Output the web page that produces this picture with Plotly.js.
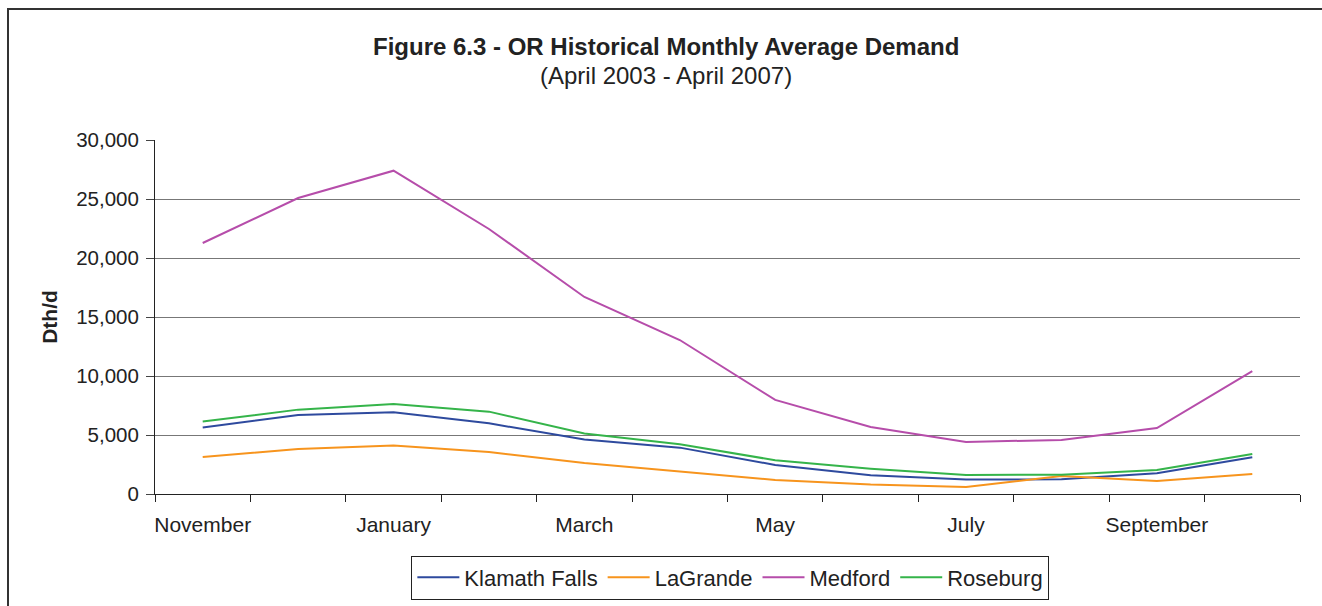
<!DOCTYPE html>
<html>
<head>
<meta charset="utf-8">
<script src="https://cdn.plot.ly/plotly-3.0.1.min.js"></script>
<style>
  html, body { margin: 0; padding: 0; background: #fff; }
  #frame { position: absolute; left: 7px; top: 8px; width: 1330px; height: 620px; border: 2px solid #333; box-sizing: border-box; pointer-events: none; z-index: 5; }
  #chart { position: absolute; left: 0; top: 0; width: 1322px; height: 606px; }
</style>
</head>
<body>
<div id="chart"></div>
<div id="frame"></div>
<script>
const months = ["November","December","January","February","March","April","May","June","July","August","September","October"];
const tickLabels = ["November","January","March","May","July","September"];
const klamathFalls = [5630, 6700, 6920, 5990, 4610, 3930, 2460, 1580, 1220, 1250, 1750, 3110];
const laGrande     = [3140, 3810, 4100, 3560, 2630, 1900, 1190, 800, 590, 1530, 1100, 1700];
const medford      = [21270, 25085, 27400, 22460, 16700, 13050, 7970, 5680, 4410, 4580, 5590, 10420];
const roseburg     = [6140, 7150, 7630, 6980, 5120, 4210, 2860, 2150, 1610, 1640, 2030, 3390];
const yTicks = [0, 5000, 10000, 15000, 20000, 25000, 30000];

const font = "Liberation Sans, Arial, sans-serif";
function tr(name, y, color) {
  return { type: "scatter", mode: "lines", name: name, x: months, y: y,
           line: { color: color, width: 2 }, xaxis: "x", yaxis: "y" };
}
const boundaries = [];
for (let i = 0; i <= months.length; i++) boundaries.push(i - 0.5);

const data = [
  tr("Klamath Falls", klamathFalls, "#2E4A9E"),
  tr("LaGrande", laGrande, "#F7941D"),
  tr("Medford", medford, "#B64DAA"),
  tr("Roseburg", roseburg, "#35B44A"),
  { type: "scatter", mode: "none", x: [-0.5, 11.5], y: [0, 0], xaxis: "x2", yaxis: "y",
    showlegend: false, hoverinfo: "skip" }
];

const layout = {
  width: 1322, height: 606,
  margin: { l: 155, r: 22, t: 140, b: 112, autoexpand: false },
  paper_bgcolor: "#fff", plot_bgcolor: "#fff",
  font: { family: font, size: 20, color: "#222" },
  showlegend: true,
  legend: { orientation: "h", x: 0.5025, xanchor: "center", y: -0.236, yanchor: "middle",
            bordercolor: "#222", borderwidth: 1, font: { size: 22, color: "#222" },
            itemwidth: 42, tracegroupgap: 0, traceorder: "normal" },
  xaxis: {
    type: "category", categoryorder: "array", categoryarray: months,
    range: [-0.5, 11.5], automargin: false,
    tickmode: "array", tickvals: tickLabels, ticktext: tickLabels,
    ticks: "", showgrid: false, zeroline: false,
    showline: true, linecolor: "#222", linewidth: 1,
    ticklabelstandoff: 12,
    tickfont: { size: 21, color: "#222" }
  },
  xaxis2: {
    type: "linear", overlaying: "x", range: [-0.5, 11.5], automargin: false,
    tickmode: "array", tickvals: boundaries, showticklabels: false,
    ticks: "outside", ticklen: 7, tickcolor: "#222", tickwidth: 1,
    showgrid: false, zeroline: false, showline: false
  },
  yaxis: {
    range: [0, 30000], tickmode: "array", tickvals: yTicks, automargin: true,
    tickformat: ",d", ticks: "outside", ticklen: 8, tickcolor: "#444", tickwidth: 1,
    showgrid: true, gridcolor: "#777", gridwidth: 1, zeroline: false,
    showline: true, linecolor: "#222", linewidth: 1,
    ticklabelstandoff: 3,
    tickfont: { size: 20.5, color: "#222" },
    title: { text: "<b>Dth/d</b>", font: { size: 21, color: "#222" }, standoff: 12 }
  },
  annotations: [
    { text: "<b>Figure 6.3 - OR Historical Monthly Average Demand</b>", xref: "paper", yref: "paper",
      x: 0.4463, y: 1.2655, xanchor: "center", yanchor: "middle", showarrow: false,
      font: { size: 24, color: "#222" } },
    { text: "(April 2003 - April 2007)", xref: "paper", yref: "paper",
      x: 0.4463, y: 1.1836, xanchor: "center", yanchor: "middle", showarrow: false,
      font: { size: 24, color: "#222" } }
  ]
};

Plotly.newPlot("chart", data, layout, { displayModeBar: false, staticPlot: true });
</script>
</body>
</html>
